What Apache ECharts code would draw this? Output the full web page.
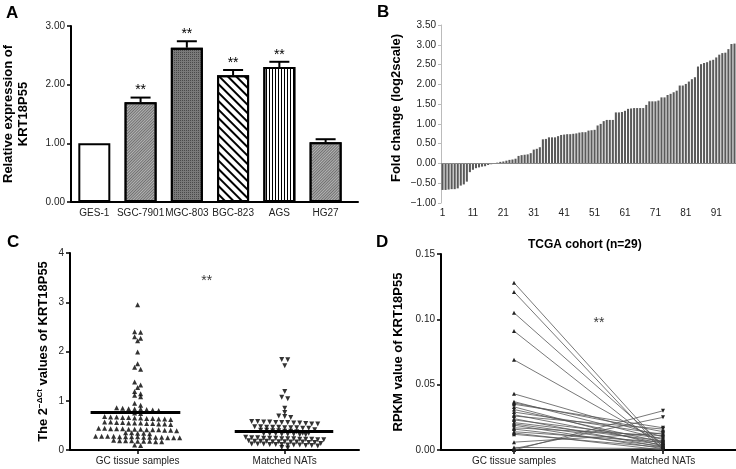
<!DOCTYPE html>
<html><head><meta charset="utf-8">
<script src="https://cdn.jsdelivr.net/npm/echarts@6/dist/echarts.min.js"></script>
<style>html,body{margin:0;padding:0;background:#fff}#c{width:736px;height:469px}</style>
</head><body><div id="c"></div>
<script>
// ---------- Panel A ----------
const cellLines = ['GES-1', 'SGC-7901', 'MGC-803', 'BGC-823', 'AGS', 'HG27'];
const relExpr = [1.00, 1.70, 2.63, 2.16, 2.30, 1.02];
const relErr = [0.00, 0.08, 0.11, 0.09, 0.09, 0.05];
const relSig = ['', '**', '**', '**', '**', ''];
// ---------- Panel B ----------
const foldChange = [
  -0.67, -0.67, -0.66, -0.65, -0.65, -0.63, -0.56, -0.53, -0.46, -0.22,
  -0.16, -0.12, -0.10, -0.08, -0.07, -0.04, -0.02, -0.01, 0.02, 0.04,
  0.05, 0.07, 0.09, 0.10, 0.12, 0.19, 0.21, 0.22, 0.23, 0.26,
  0.35, 0.37, 0.41, 0.61, 0.62, 0.66, 0.66, 0.66, 0.69, 0.72,
  0.73, 0.74, 0.74, 0.75, 0.76, 0.78, 0.79, 0.79, 0.83, 0.84,
  0.85, 0.96, 1.00, 1.07, 1.10, 1.10, 1.10, 1.29, 1.29, 1.30,
  1.33, 1.38, 1.39, 1.40, 1.40, 1.40, 1.40, 1.48, 1.57, 1.57,
  1.57, 1.59, 1.67, 1.67, 1.73, 1.76, 1.80, 1.84, 1.97, 1.97,
  2.01, 2.07, 2.13, 2.18, 2.45, 2.51, 2.54, 2.56, 2.60, 2.62,
  2.68, 2.75, 2.79, 2.80, 2.89, 3.02, 3.03
];
const sampleLabels = foldChange.map((_, i) => String(i + 1));
// ---------- Panel C ----------
const groups = ['GC tissue samples', 'Matched NATs'];
const gcValues = [
  2.95, 2.40, 2.39, 2.30, 2.27, 2.22, 1.99, 1.75, 1.68, 1.64, 1.38, 1.32, 1.27, 1.19, 1.14, 1.11, 1.08, 0.95, 0.91,
  0.86, 0.85, 0.84, 0.83, 0.83, 0.82, 0.81, 0.80,
  0.75, 0.74,
  0.68, 0.67, 0.67, 0.66, 0.66, 0.65, 0.65, 0.64, 0.64, 0.63, 0.63, 0.62,
  0.57, 0.57, 0.56, 0.56, 0.55, 0.55, 0.55, 0.54, 0.54, 0.53, 0.53, 0.52,
  0.44, 0.44, 0.43, 0.43, 0.43, 0.42, 0.42, 0.42, 0.41, 0.41, 0.41, 0.40, 0.40, 0.39,
  0.35, 0.35, 0.34, 0.34, 0.33,
  0.28, 0.28, 0.28, 0.28, 0.27, 0.27, 0.27, 0.27, 0.26, 0.26, 0.26, 0.26, 0.25, 0.25, 0.25,
  0.20, 0.19, 0.19, 0.19, 0.18, 0.18, 0.18, 0.17, 0.17,
  0.10, 0.09
];
const natValues = [
  1.84, 1.83, 1.71, 1.19, 1.07, 1.04, 0.85, 0.76, 0.69, 0.68, 0.66,
  0.58, 0.58, 0.57, 0.57, 0.56, 0.56, 0.56, 0.55, 0.55, 0.54, 0.53, 0.53,
  0.47, 0.47, 0.46, 0.46, 0.46, 0.45, 0.45, 0.45, 0.44, 0.44,
  0.41, 0.40, 0.40, 0.39, 0.39, 0.38, 0.38, 0.37,
  0.34, 0.34, 0.33, 0.33, 0.33, 0.32, 0.32, 0.32, 0.31, 0.31,
  0.26, 0.25, 0.25, 0.24, 0.24, 0.24, 0.23, 0.23, 0.23, 0.22, 0.22, 0.22, 0.21, 0.21,
  0.19, 0.18, 0.18, 0.18, 0.17, 0.17, 0.17, 0.16, 0.16, 0.16, 0.15, 0.15,
  0.13, 0.12, 0.12, 0.12, 0.11, 0.11, 0.11, 0.10, 0.10, 0.10, 0.09, 0.09, 0.08,
  0.05, 0.04
];
const groupMeans = [0.76, 0.38];
// ---------- Panel D ----------
const tcgaTumor = [0.128, 0.121, 0.105, 0.091, 0.069, 0.043, 0.037, 0.036, 0.035, 0.033, 0.031, 0.029, 0.027, 0.026, 0.024,
  0.023, 0.021, 0.020, 0.019, 0.017, 0.016, 0.014, 0.013, 0.012, 0.006, 0.002, 0.001, 0.000, 0.000];
const tcgaNormal = [0.002, 0.000, 0.004, 0.001, 0.005, 0.010, 0.008, 0.014, 0.017, 0.003, 0.006, 0.012, 0.005, 0.016, 0.002,
  0.009, 0.007, 0.004, 0.001, 0.011, 0.003, 0.006, 0.000, 0.002, 0.013, 0.001, 0.025, 0.030, 0.000];

// ---------- helpers ----------
const FONT = '"Liberation Sans", Arial, Helvetica, sans-serif';
const C_PX_X = 147;      // px per category unit on panel C x axis
const ROW_GAP = 0.065;   // values closer than this share a row of the dot plot
const DOT_STEP = 6;      // px between neighbouring dots in a row
function rowSwarm(vals) {
  const order = vals.map((v, i) => i).sort((a, b) => vals[b] - vals[a]);
  const out = new Array(vals.length);
  let row = [];
  const flush = () => {
    row.forEach((idx, k) => { out[idx] = (k - (row.length - 1) / 2) * DOT_STEP / C_PX_X; });
    row = [];
  };
  for (const i of order) {
    if (row.length && vals[row[0]] - vals[i] > ROW_GAP + 1e-9) flush();
    row.push(i);
  }
  flush();
  return out;
}
const fmt2 = v => v.toFixed(2).replace('-', '\u2212');

const barStyles = [
  { color: '#ffffff' },
  { color: '#b4b4b4', decal: { symbol: 'rect', symbolSize: 1, dashArrayX: [1, 0], dashArrayY: [1, 1], rotation: -Math.PI / 4, color: '#707070' } },
  { color: '#7a7a7a', decal: { symbol: 'rect', symbolSize: 1, dashArrayX: [1, 1], dashArrayY: [1, 1], rotation: 0, color: '#4a4a4a' } },
  { color: '#ffffff', decal: { symbol: 'rect', symbolSize: 1, dashArrayX: [1, 0], dashArrayY: [2, 4], rotation: Math.PI / 4, color: '#000000' } },
  { color: '#ffffff', decal: { symbol: 'rect', symbolSize: 1, dashArrayX: [1, 0], dashArrayY: [1, 2], rotation: Math.PI / 2, color: '#000000' } },
  { color: '#b4b4b4', decal: { symbol: 'rect', symbolSize: 1, dashArrayX: [1, 0], dashArrayY: [1, 1], rotation: -Math.PI / 4, color: '#707070' } }
];

const blackAxis = { show: true, onZero: false, lineStyle: { color: '#000', width: 2 } };
const blackTick = { show: true, length: 4, lineStyle: { color: '#000', width: 1.5 } };
const tickLabel = { fontSize: 10, color: '#222', fontFamily: FONT };
const nameStyle = { fontSize: 13, fontWeight: 'bold', color: '#000', fontFamily: FONT };

const gcX = rowSwarm(gcValues);
const natX = rowSwarm(natValues);

const dSeries = tcgaTumor.map((t, i) => ({
  type: 'line', xAxisIndex: 3, yAxisIndex: 3, silent: true, animation: false,
  lineStyle: { color: '#555', width: 0.8 },
  itemStyle: { color: '#222' },
  symbolSize: 4,
  data: [
    { value: [0, t], symbol: 'triangle' },
    { value: [1, tcgaNormal[i]], symbol: 'triangle', symbolRotate: 180 }
  ]
}));

const option = {
  animation: false,
  textStyle: { fontFamily: FONT },
  title: [
    { text: 'A', left: 1, top: 0, textStyle: { fontSize: 17, fontWeight: 'bold', color: '#000', fontFamily: FONT } },
    { text: 'B', left: 372, top: -1, textStyle: { fontSize: 17, fontWeight: 'bold', color: '#000', fontFamily: FONT } },
    { text: 'C', left: 2, top: 229, textStyle: { fontSize: 17, fontWeight: 'bold', color: '#000', fontFamily: FONT } },
    { text: 'D', left: 371, top: 229, textStyle: { fontSize: 17, fontWeight: 'bold', color: '#000', fontFamily: FONT } },
    { text: 'TCGA cohort (n=29)', left: 528, top: 239, padding: 0, textStyle: { fontSize: 12, fontWeight: 'bold', color: '#000', fontFamily: FONT } }
  ],
  grid: [
    { left: 69, top: 26, width: 289, height: 176 },
    { left: 441, top: 25, width: 295, height: 178 },
    { left: 70, top: 253, width: 289, height: 197 },
    { left: 441, top: 254, width: 295, height: 196 }
  ],
  xAxis: [
    { type: 'value', gridIndex: 0, min: -0.504, max: 5.70, axisLine: blackAxis, axisTick: { show: false }, splitLine: { show: false },
      axisLabel: Object.assign({ customValues: [0, 1, 2, 3, 4, 5], formatter: v => cellLines[Math.round(v)], margin: 6 }, tickLabel) },
    { type: 'category', gridIndex: 1, data: sampleLabels, axisLine: { show: false, onZero: false }, axisTick: { show: false },
      axisLabel: Object.assign({ interval: 9, margin: 5 }, tickLabel) },
    { type: 'value', gridIndex: 2, min: -0.46, max: 1.505, axisLine: blackAxis, splitLine: { show: false },
      axisTick: Object.assign({ customValues: [0, 1] }, blackTick),
      axisLabel: Object.assign({ customValues: [0, 1], formatter: v => groups[Math.round(v)], margin: 6 }, tickLabel) },
    { type: 'value', gridIndex: 3, min: -0.49, max: 1.49, axisLine: blackAxis, splitLine: { show: false },
      axisTick: Object.assign({ customValues: [0, 1] }, blackTick),
      axisLabel: Object.assign({ customValues: [0, 1], formatter: v => groups[Math.round(v)], margin: 6 }, tickLabel) }
  ],
  yAxis: [
    { type: 'value', gridIndex: 0, min: 0, max: 3, interval: 1, axisLine: blackAxis, axisTick: blackTick, splitLine: { show: false },
      axisLabel: Object.assign({ formatter: fmt2, margin: 6 }, tickLabel),
      name: 'Relative expression of\nKRT18P55', nameLocation: 'middle', nameGap: 40, nameTextStyle: Object.assign({ lineHeight: 15 }, nameStyle) },
    { type: 'value', gridIndex: 1, min: -1, max: 3.5, interval: 0.5, axisLine: { show: true, onZero: false, lineStyle: { color: '#bbb', width: 1 } },
      axisTick: { show: true, length: 3, lineStyle: { color: '#bbb' } }, splitLine: { show: false },
      axisLabel: Object.assign({ formatter: fmt2, margin: 5 }, tickLabel),
      name: 'Fold change (log2scale)', nameLocation: 'middle', nameGap: 38, nameTextStyle: Object.assign({ padding: [0, 0, 0, 12] }, nameStyle) },
    { type: 'value', gridIndex: 2, min: 0, max: 4, interval: 1, axisLine: blackAxis, axisTick: blackTick, splitLine: { show: false },
      axisLabel: Object.assign({ margin: 6 }, tickLabel),
      name: 'The 2{sup|\u2212\u0394Ct} values of KRT18P55', nameLocation: 'middle', nameGap: 20,
      nameTextStyle: Object.assign({ rich: { sup: { fontSize: 8, fontWeight: 'bold', verticalAlign: 'top', color: '#000', fontFamily: FONT, padding: [0, 0, 6, 0] } } }, nameStyle) },
    { type: 'value', gridIndex: 3, min: 0, max: 0.15, interval: 0.05, axisLine: blackAxis, axisTick: blackTick, splitLine: { show: false },
      axisLabel: Object.assign({ formatter: fmt2, margin: 6 }, tickLabel),
      name: 'RPKM value of KRT18P55', nameLocation: 'middle', nameGap: 36, nameTextStyle: nameStyle }
  ],
  series: [
    { type: 'bar', xAxisIndex: 0, yAxisIndex: 0, barWidth: 32,
      data: relExpr.map((v, i) => ({ value: [i, v], itemStyle: Object.assign({ borderColor: '#000', borderWidth: 2 }, barStyles[i]) })) },
    { type: 'custom', xAxisIndex: 0, yAxisIndex: 0, encode: { x: 0, y: [1, 2] },
      data: relExpr.map((v, i) => [i, v, v + relErr[i]]),
      renderItem: (params, api) => {
        const x = api.value(0), v = api.value(1), top = api.value(2);
        const p0 = api.coord([x, v]), p1 = api.coord([x, top]);
        const ch = [];
        if (top > v) {
          ch.push({ type: 'line', shape: { x1: p0[0], y1: p0[1], x2: p1[0], y2: p1[1] }, style: { stroke: '#000', lineWidth: 2 } });
          ch.push({ type: 'line', shape: { x1: p1[0] - 10, y1: p1[1], x2: p1[0] + 10, y2: p1[1] }, style: { stroke: '#000', lineWidth: 2 } });
        }
        const sig = relSig[params.dataIndex];
        if (sig) ch.push({ type: 'text', style: { text: sig, x: p1[0], y: p1[1] - 7, align: 'center', verticalAlign: 'middle', fontSize: 14, fill: '#000', fontFamily: FONT } });
        return { type: 'group', children: ch };
      } },
    { type: 'bar', xAxisIndex: 1, yAxisIndex: 1, data: foldChange, barCategoryGap: '32%',
      itemStyle: { color: '#5a5a5a' },
      markLine: { silent: true, symbol: 'none', label: { show: false }, lineStyle: { color: '#888', width: 1, type: 'solid' }, data: [{ yAxis: 0 }] } },
    { type: 'scatter', xAxisIndex: 2, yAxisIndex: 2, symbol: 'triangle', symbolSize: 5, itemStyle: { color: '#000' },
      data: gcValues.map((v, i) => [gcX[i], v]),
      markLine: { silent: true, symbol: 'none', label: { show: false }, lineStyle: { color: '#000', width: 3, type: 'solid' },
        data: [[{ coord: [-0.32, groupMeans[0]] }, { coord: [0.29, groupMeans[0]] }]] } },
    { type: 'scatter', xAxisIndex: 2, yAxisIndex: 2, symbol: 'triangle', symbolRotate: 180, symbolSize: 5, itemStyle: { color: '#000' },
      data: natValues.map((v, i) => [1 + natX[i], v]),
      markLine: { silent: true, symbol: 'none', label: { show: false }, lineStyle: { color: '#000', width: 3, type: 'solid' },
        data: [[{ coord: [0.66, groupMeans[1]] }, { coord: [1.33, groupMeans[1]] }]] } },
    { type: 'scatter', xAxisIndex: 2, yAxisIndex: 2, symbolSize: 0, silent: true, data: [[0.47, 3.43]],
      label: { show: true, position: 'inside', formatter: '**', fontSize: 14, color: '#000', fontFamily: FONT } },
    { type: 'scatter', xAxisIndex: 3, yAxisIndex: 3, symbolSize: 0, silent: true, data: [[0.57, 0.097]],
      label: { show: true, position: 'inside', formatter: '**', fontSize: 14, color: '#000', fontFamily: FONT } }
  ].concat(dSeries)
};
const chart = echarts.init(document.getElementById('c'));
chart.setOption(option);
</script></body></html>
